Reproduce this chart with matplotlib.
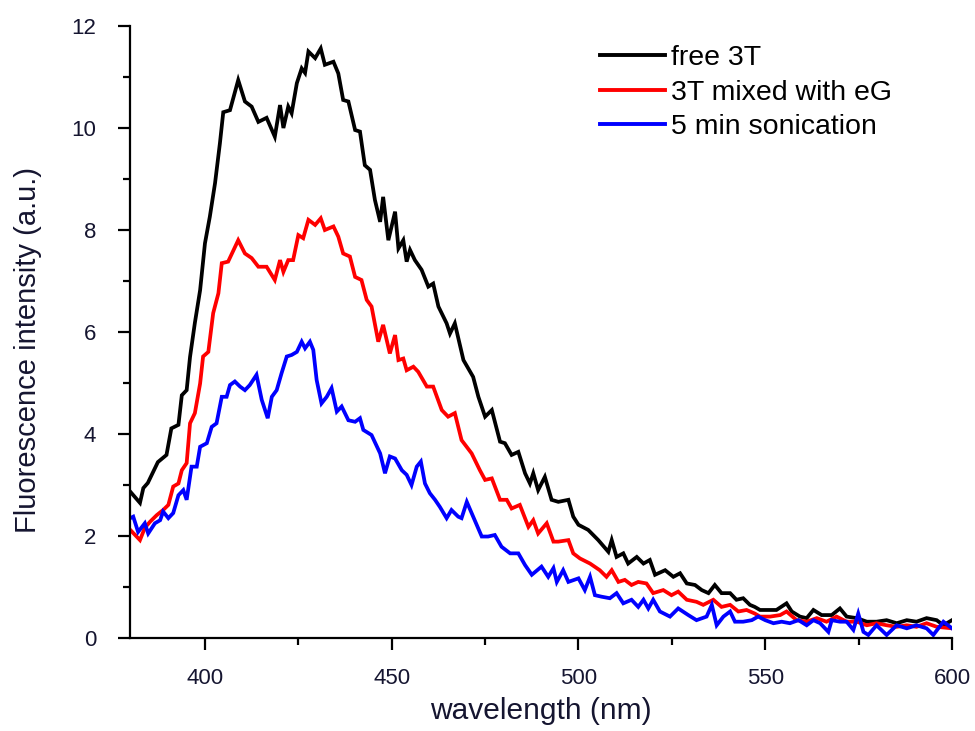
import numpy as np
import matplotlib
matplotlib.use('Agg')
import matplotlib.pyplot as plt
from matplotlib.ticker import MultipleLocator

plt.rcParams['font.family'] = ['Liberation Sans', 'DejaVu Sans']

# free 3T
wl_black = [380, 382.6, 383.5, 384.7, 387.4, 389.7, 391, 392.9, 393.8, 395.1,
            396, 397.3, 398.7, 400, 401.3, 402.7, 404, 404.9, 406.7, 408.9,
            410.7, 412.5, 414.3, 416.5, 418.7, 420.1, 421, 422.3, 423.2, 424.6,
            425.9, 426.8, 427.7, 429.5, 431, 432.1, 434.4, 435.7, 437, 438.4,
            440.2, 441.5, 442.8, 444.2, 445.5, 446.9, 447.7, 449.1, 450.9, 451.8,
            453.1, 454, 454.9, 456.2, 458, 459.8, 461.1, 462.5, 464.7, 465.6,
            466.9, 469.2, 471.8, 473.2, 475, 476.8, 479, 480.3, 482.1, 483.9,
            485.7, 487, 487.9, 489.2, 491, 492.8, 494.6, 497.3, 498.6, 500,
            502.6, 505.3, 508, 508.9, 510.2, 512, 513.3, 515.6, 517.4, 519.1,
            520.5, 523.2, 525.4, 527.2, 529, 531.2, 533, 534.8, 536.5, 538.3,
            540.6, 542.3, 544.1, 545.9, 547.2, 548.6, 550.8, 553, 555.7, 557.1,
            559.3, 561.1, 562.9, 565.1, 567.8, 570, 571.8, 574.5, 577.2, 579.8,
            582.5, 585.2, 587.9, 590.5, 593.2, 595.9, 597.7, 600]
int_black = [2.87, 2.65, 2.94, 3.04, 3.45, 3.59, 4.11, 4.18, 4.76, 4.86,
             5.51, 6.18, 6.82, 7.74, 8.26, 8.92, 9.7, 10.31, 10.35, 10.94,
             10.52, 10.42, 10.12, 10.2, 9.83, 10.45, 10.0, 10.42, 10.29, 10.88,
             11.17, 11.08, 11.5, 11.37, 11.56, 11.24, 11.3, 11.07, 10.55, 10.52,
             9.96, 9.93, 9.27, 9.18, 8.59, 8.16, 8.65, 7.8, 8.36, 7.64,
             7.8, 7.38, 7.61, 7.41, 7.22, 6.89, 6.95, 6.5, 6.17, 5.97,
             6.17, 5.45, 5.12, 4.73, 4.34, 4.47, 3.85, 3.82, 3.59, 3.65,
             3.23, 3.03, 3.23, 2.9, 3.16, 2.71, 2.67, 2.71, 2.38, 2.22,
             2.12, 1.92, 1.69, 1.92, 1.59, 1.66, 1.46, 1.59, 1.46, 1.53,
             1.24, 1.33, 1.2, 1.27, 1.07, 1.04, 0.94, 0.88, 1.04, 0.88,
             0.88, 0.75, 0.78, 0.65, 0.61, 0.55, 0.55, 0.55, 0.68, 0.52,
             0.42, 0.39, 0.55, 0.45, 0.45, 0.58, 0.42, 0.39, 0.32, 0.32,
             0.35, 0.29, 0.35, 0.32, 0.39, 0.35, 0.25, 0.35]

# 3T mixed with eG
wl_red = [380, 382.6, 383.9, 385.3, 387.1, 388.8, 390.2, 391.5, 392.9, 393.8,
          395.1, 396, 397.3, 398.7, 399.5, 400.9, 402.2, 403.6, 404.5, 406.2,
          408.9, 410.7, 412.5, 414.3, 416.5, 418.7, 420.1, 421, 422.3, 423.6,
          425, 426.3, 427.7, 429.5, 431, 432.1, 434.4, 435.7, 437, 438.8,
          440.2, 441.9, 443.3, 444.6, 446.4, 447.7, 449.5, 450.9, 451.8, 453.1,
          454, 455.8, 457.1, 459.4, 461.1, 463.4, 465.1, 466.9, 468.7, 471.4,
          473.6, 475, 476.8, 479, 480.8, 482.1, 484.3, 486.6, 487.9, 489.2,
          491.5, 493.3, 494.6, 497.3, 498.6, 500.4, 503.1, 505.7, 507.5, 508.9,
          510.7, 512.4, 514.2, 516, 518.2, 520, 522.7, 524.9, 526.7, 529,
          531.6, 533.4, 536.1, 538.3, 540.6, 542.8, 545, 547.2, 548.6, 551.3,
          554, 555.7, 558.4, 561.1, 563.8, 566.4, 569.1, 571.8, 574.5, 577.2,
          579.8, 582.5, 585.2, 587.9, 590.5, 593.2, 595.9, 600]
int_red = [2.12, 1.92, 2.16, 2.28, 2.41, 2.51, 2.61, 2.97, 3.03, 3.29,
           3.43, 4.21, 4.41, 4.99, 5.52, 5.61, 6.37, 6.76, 7.35, 7.38,
           7.8, 7.54, 7.45, 7.28, 7.28, 7.02, 7.41, 7.18, 7.41, 7.41,
           7.9, 7.84, 8.2, 8.1, 8.23, 8.0, 8.07, 7.87, 7.54, 7.48,
           7.08, 7.02, 6.63, 6.5, 5.81, 6.14, 5.58, 5.94, 5.45, 5.48,
           5.25, 5.32, 5.22, 4.93, 4.93, 4.47, 4.34, 4.41, 3.88, 3.62,
           3.29, 3.1, 3.13, 2.71, 2.71, 2.54, 2.61, 2.18, 2.31, 2.05,
           2.25, 1.89, 1.89, 1.92, 1.66, 1.56, 1.46, 1.33, 1.2, 1.33,
           1.1, 1.14, 1.04, 1.1, 1.07, 0.88, 0.94, 0.84, 0.91, 0.75,
           0.71, 0.65, 0.75, 0.61, 0.65, 0.52, 0.55, 0.48, 0.42, 0.42,
           0.45, 0.52, 0.35, 0.32, 0.39, 0.32, 0.42, 0.32, 0.32, 0.25,
           0.29, 0.25, 0.22, 0.25, 0.22, 0.29, 0.22, 0.19]

# 5 min sonication
wl_blue = [380, 380.8, 382.1, 383.9, 384.8, 386.6, 388, 388.8, 390.2, 391.5,
           392.9, 394.2, 395.1, 396.4, 397.8, 398.7, 400.5, 401.8, 403.1, 404.5,
           405.8, 406.7, 408, 409.4, 410.7, 412, 413.8, 415.2, 416.8, 417.9,
           419.2, 420.5, 421.9, 423.2, 424.6, 425.9, 426.8, 428.1, 429, 429.9,
           431.2, 432.6, 433.9, 435.3, 436.6, 438.4, 440.2, 441.5, 442.4, 444.6,
           446.9, 448.2, 449.5, 450.9, 452.7, 454, 455.3, 456.7, 457.8, 458.9,
           460.2, 461.6, 462.9, 464.7, 466, 467.8, 468.7, 470.1, 471.8, 474.1,
           475.8, 477.6, 479.4, 481.7, 483.9, 485.7, 487.5, 490.1, 491.9, 493.3,
           494.2, 495.9, 497.3, 500, 501.7, 503.1, 504.4, 506.2, 508.4, 510.2,
           512, 514.2, 516, 517.4, 518.7, 520, 521.8, 524.5, 526.7, 529.4,
           531.6, 534.3, 535.7, 537, 538.8, 540.6, 541.9, 544.1, 546.4, 548.1,
           550, 552.2, 554.4, 556.6, 558.9, 561.1, 562.9, 564.7, 566.9, 567.8,
           570, 571.8, 573.6, 574.9, 576.3, 577.6, 579.8, 582.5, 585.2, 587.9,
           590.5, 593.2, 595, 597.7, 600]
int_blue = [2.35, 2.38, 2.08, 2.25, 2.05, 2.25, 2.31, 2.48, 2.35, 2.45,
            2.8, 2.9, 2.71, 3.36, 3.36, 3.75, 3.82, 4.14, 4.21, 4.73,
            4.73, 4.96, 5.03, 4.93, 4.86, 4.96, 5.16, 4.67, 4.31, 4.73,
            4.86, 5.19, 5.52, 5.55, 5.61, 5.81, 5.68, 5.81, 5.65, 5.06,
            4.6, 4.73, 4.9, 4.44, 4.54, 4.27, 4.24, 4.31, 4.08, 3.98,
            3.62, 3.23, 3.56, 3.52, 3.29, 3.2, 3.0, 3.36, 3.46, 3.03,
            2.84, 2.71, 2.57, 2.35, 2.51, 2.38, 2.35, 2.67, 2.38, 1.99,
            1.99, 2.02, 1.79, 1.66, 1.66, 1.43, 1.24, 1.4, 1.2, 1.37,
            1.1, 1.33, 1.1, 1.17, 0.94, 1.2, 0.84, 0.81, 0.78, 0.88,
            0.68, 0.75, 0.61, 0.75, 0.58, 0.75, 0.52, 0.42, 0.58, 0.45,
            0.35, 0.42, 0.65, 0.25, 0.42, 0.52, 0.32, 0.32, 0.35, 0.42,
            0.35, 0.29, 0.32, 0.29, 0.35, 0.25, 0.35, 0.29, 0.12, 0.35,
            0.32, 0.32, 0.16, 0.48, 0.12, 0.06, 0.25, 0.06, 0.25, 0.19,
            0.25, 0.19, 0.06, 0.32, 0.19]

labels = ['free 3T', '3T mixed with eG', '5 min sonication']
colors = ['black', '#ff0000', '#0000ff']

fig = plt.figure(figsize=(9.75, 7.31), dpi=100)
ax = fig.add_axes([0.1336, 0.1272, 0.8428, 0.8372])

series = [(wl_black, int_black), (wl_red, int_red), (wl_blue, int_blue)]
for (wl, inten), lab, c in zip(series, labels, colors):
    ax.plot(wl, inten, color=c, lw=2.7, label=lab, solid_joinstyle='miter')

ax.set_xlim(380, 600)
ax.set_ylim(0, 12)
ax.xaxis.set_major_locator(MultipleLocator(50))
ax.xaxis.set_minor_locator(MultipleLocator(25))
ax.yaxis.set_major_locator(MultipleLocator(2))
ax.yaxis.set_minor_locator(MultipleLocator(1))

for s in ['top', 'right']:
    ax.spines[s].set_visible(False)
for s in ['left', 'bottom']:
    ax.spines[s].set_linewidth(1.6)

lab_col = '#151530'
ax.tick_params(which='major', direction='out', length=8.6, width=1.6,
               labelsize=16, labelcolor=lab_col)
ax.tick_params(which='minor', direction='out', length=5, width=1.6)
ax.tick_params(axis='x', which='major', pad=13)
ax.tick_params(axis='y', which='major', pad=16)

ax.set_xlabel('wavelength (nm)', fontsize=21.5, color=lab_col, labelpad=6)
ax.set_ylabel('Fluorescence intensity (a.u.)', fontsize=21, color=lab_col)
ax.yaxis.set_label_coords(-0.108, 0.47)

leg = ax.legend(loc='upper left', bbox_to_anchor=(0.5712, 0.969), frameon=False,
                fontsize=20.5, handlelength=2.3, handletextpad=0.2,
                labelspacing=0.3, borderpad=0, borderaxespad=0)
for line in leg.get_lines():
    line.set_linewidth(2.8)

fig.savefig('out.png', dpi=100)
